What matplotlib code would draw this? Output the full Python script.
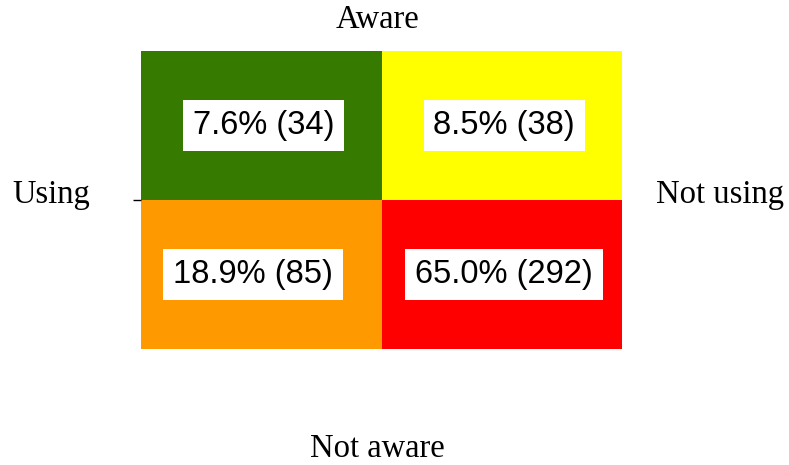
import matplotlib
matplotlib.use("Agg")
import matplotlib.pyplot as plt

# 2x2 awareness / usage table
cols = ["Aware", "Not aware"]
rows = ["Using", "Not using"]
pcts = [7.6, 8.5, 18.9, 65.0]
counts = [34, 38, 85, 292]
colors = ["#367a00", "#ffff00", "#ff9900", "#ff0000"]
# cell positions (col, row) in the grid, row 1 = top
cells = [(0, 1), (1, 1), (0, 0), (1, 0)]

W, H = 789, 465
fig = plt.figure(figsize=(W / 100, H / 100), dpi=100)
ax = fig.add_axes([141 / W, (H - 349) / H, (622 - 141) / W, (349 - 51) / H])

for (cx, cy), p, n, c in zip(cells, pcts, counts, colors):
    ax.bar(cx, 1, width=1, bottom=cy, align="edge", color=c, edgecolor="none")
    dx = -0.035 if (cx, cy) == (0, 0) else 0.01
    ax.text(cx + 0.5 + dx, cy + 0.5, "%.1f%% (%d)" % (p, n),
            ha="center", va="center", fontsize=23.5, family="Liberation Sans",
            bbox=dict(boxstyle="square,pad=0.3", fc="white", ec="none"))

ax.set_xlim(0, 2)
ax.set_ylim(0, 2)
for s in ax.spines.values():
    s.set_visible(False)
ax.set_xticks([])
ax.set_yticks([1])
ax.set_yticklabels([""])
ax.tick_params(axis="y", length=6, width=1, color="black")

serif = dict(family="Liberation Serif", fontsize=23.5, va="baseline", ha="center")
fig.text(378 / W, 1 - 28 / H, cols[0], **serif)
fig.text(377 / W, 1 - 457 / H, cols[1], **serif)
fig.text(51 / W, 1 - 203 / H, rows[0], **serif)
fig.text(720 / W, 1 - 203 / H, rows[1], **serif)

fig.savefig("out.png", dpi=100)
